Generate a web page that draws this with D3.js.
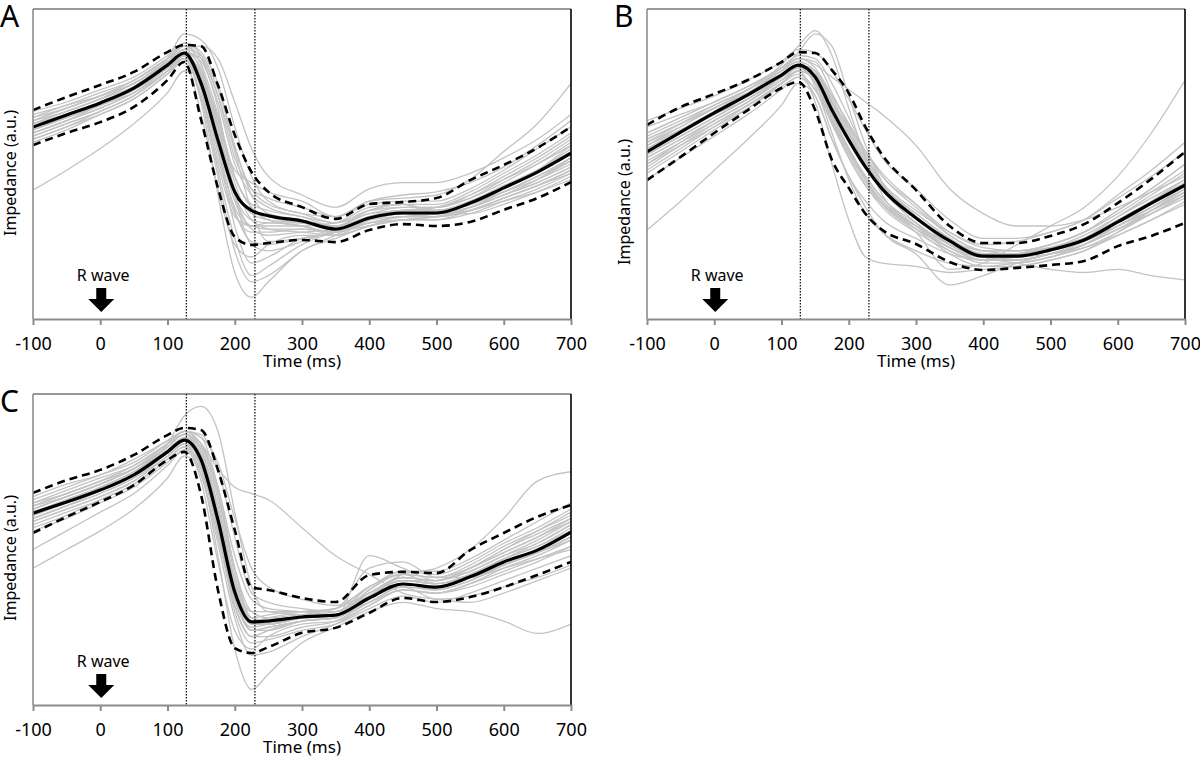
<!DOCTYPE html>
<html>
<head>
<meta charset="utf-8">
<script src="https://cdn.jsdelivr.net/npm/d3@7"></script>
<style>
  body { margin: 0; background: #fff; }
  text { font-family: "Noto Sans", sans-serif; fill: #000; }
</style>
</head>
<body>
<svg id="chart" width="1200" height="758"></svg>
<script>
// sample times (ms) shared by every curve
const times = [-100, -50, 0, 50, 100, 125, 150, 175, 200, 225, 250, 300, 350, 400, 450, 500, 550, 600, 650, 700];
const xTicks = [-100, 0, 100, 200, 300, 400, 500, 600, 700];
const markers = [128, 230];

// panel A
const meanA  = [61.9,65.8,69.7,74.5,81.9,85.8,76,57.7,41,35,33.3,31.6,29,32.6,34.2,34.2,37.4,42.3,47.4,53.5];
const upperA = [67.4,71.6,75.5,79.7,86.1,88.4,88,75.5,59.4,47.4,41,36.1,32.3,37.1,37.7,39,44.8,49.7,55.2,62];
const lowerA = [56.1,60,63.5,68.4,77.1,82.9,64.2,42.3,26.5,23.9,24.5,25.5,24.8,28.7,30.6,30,31.3,35.2,39,44.2];
const greyA = [
  [64,67,71,76,83,87,80,62,42,34,32,31,30,33,35,35,38,43,48,54],
  [60,64,68,73,80,84,72,50,33,30,31,30,28,31,33,34,37,41,46,52],
  [66,69,73,77,84,89,86,76,55,42,37,34,31,35,36,36,40,46,52,59],
  [58,62,66,71,79,83,66,42,24,20,24,27,27,30,32,32,34,38,42,47],
  [63,66,70,75,82,86,83,70,50,40,36,33,30,34,35,36,39,44,50,57],
  [41.6,48,55,63,73,80,78,65,46,36,33,31,29,32,34,34,36,40,44,49],
  [62,66,70,75,84,92,90,81,62,46,38,34,33,38,39,40,45,54,63,76],
  [61,65,69,74,81,84,70,40,15,7,12,22,26,30,33,33,35,39,43,48],
  [65,68,72,76,83,86,84,72,54,35,25,26,28,31,33,33,36,41,46,51],
  [59,63,67,72,80,84,75,56,35,25,24,26,28,31,32,33,35,38,41,45],
  [64,68,72,77,84,87,88,84,70,55,46,40,36,42,44,44,47,52,58,66],
  [62,66,70,74,81,85,77,55,30,18,20,26,28,33,35,35,37,41,45,50],
  [60,64,69,74,82,86,74,48,26,14,17,24,28,30,32,33,36,40,45,51],
  [63,67,71,75,82,85,79,64,46,36,32,30,27,32,34,33,36,40,45,52],
  [61,65,70,75,83,88,84,68,40,24,22,25,29,35,37,34,34,37,41,46],
  [67,70,74,78,85,89,85,72,52,42,39,36,33,38,40,41,44,49,56,64],
  [57,61,66,71,79,84,71,46,22,12,14,22,27,32,34,34,37,42,48,56],
  [62,65,69,73,80,84,78,62,48,44,41,38,33,37,38,38,42,48,55,62],
  [60,64,68,73,81,85,78,58,38,30,29,29,28,32,34,34,36,40,44,49],
  [65,69,72,77,84,88,82,66,46,37,35,33,31,34,36,36,39,45,51,58],
  [62,65,69,74,81,85,74,52,34,28,28,29,28,33,35,35,38,43,48,55],
  [59,63,67,72,80,84,80,64,44,32,29,28,27,30,32,32,35,39,43,48],
  [63,67,71,76,83,87,85,74,56,40,34,32,30,35,37,37,41,47,53,60],
  [61,65,69,74,81,85,76,54,36,30,30,30,31,36,37,35,37,41,46,52],
  [64,68,72,76,83,86,81,62,40,29,27,28,29,33,35,36,40,45,50,56],
  [58,62,67,72,80,85,79,60,40,32,31,31,30,32,33,33,35,39,43,47]
];

// panel B
const meanB  = [53.9,60.3,66.5,72.3,78.7,81.9,78.1,67.4,57.7,49,41.9,32.6,25.2,20.3,20.3,22.3,25.5,31.3,37.4,43.2];
const upperB = [62.6,68.4,72.6,77.1,82.9,86.1,85.8,80.3,72.9,61.9,52.9,41.6,30,24.5,24.5,26.8,30.6,37.4,45.2,53.9];
const lowerB = [44.8,52.3,60,67.4,74.5,76.5,67.4,51.3,42.3,33.9,28.7,24.2,18.4,15.8,16.5,17.4,18.7,23.5,26.8,31];
const greyB = [
  [55,61,67,73,79,82,79,68,58,49,42,33,25,20,20,22,25,31,37,43],
  [50,57,64,70,77,81,76,63,52,43,36,28,22,18,18,20,23,28,34,40],
  [60,65,70,75,81,85,84,76,65,54,46,36,27,22,22,24,28,34,41,48],
  [28.7,38,48,58,69,76,72,58,46,38,32,26,21,19,19,21,24,29,35,41],
  [58,63,68,74,82,88,93,85,68,52,40,30,22,19,20,22,26,33,40,47],
  [62,66,70,75,81,84,82,78,74,70,66,56,42,34,30,30,32,36,41,46],
  [52,58,64,70,77,80,70,50,32,20,18,17,15,16,17,19,22,28,35,42],
  [56,61,66,71,78,81,78,66,55,45,37,28,16,18,24,30,36,46,60,77],
  [54,60,66,72,79,82,80,70,60,50,43,34,26,20,18,16,15,16,14,12.6],
  [57,63,69,74,80,83,75,60,45,34,28,22,18,17,18,20,24,30,36,43],
  [48,55,62,69,76,80,78,70,62,54,47,37,27,22,21,23,27,33,39,45],
  [59,64,69,74,81,86,92,88,72,56,44,33,24,20,21,24,28,35,42,50],
  [53,59,65,71,78,81,77,64,54,45,38,29,21,17,17,19,22,27,32,38],
  [50,56,62,68,75,78,72,58,46,36,28,21,11,14,18,21,24,29,34,39],
  [64,68,72,77,83,87,86,80,71,61,52,42,32,26,26,28,32,40,48,57],
  [45,52,59,66,74,78,74,64,55,46,39,31,24,21,21,23,26,30,35,40],
  [56,62,68,73,80,84,83,73,62,52,44,35,28,24,25,28,32,39,46,54],
  [51,57,63,69,76,79,74,63,53,44,37,29,23,19,19,21,24,30,35,41],
  [53,59,65,71,78,81,79,69,59,50,43,34,26,21,21,23,26,32,38,44],
  [57,62,68,73,80,83,80,70,60,51,43,33,24,20,20,22,25,30,36,42],
  [49,56,63,69,76,80,77,65,54,45,38,30,24,20,19,21,24,29,34,40],
  [60,65,70,75,81,84,81,72,63,54,46,37,28,23,22,24,28,35,42,50],
  [55,60,66,72,79,82,78,66,55,46,39,30,23,19,19,21,25,31,38,45],
  [52,58,64,70,78,82,80,71,61,51,42,31,23,20,21,23,26,31,36,42],
  [58,63,68,73,80,83,77,64,52,43,37,30,25,22,22,23,26,31,37,44],
  [47,54,61,68,76,80,79,72,63,53,44,33,25,21,20,21,23,27,32,37]
];

// panel C
const meanC  = [61.7,65.3,69.1,74,81.4,85.2,78.8,59.5,36.3,26.7,27,28.3,28.9,34.4,38.9,37.9,41.2,46,49.8,55.6];
const upperC = [68.2,72.3,75.6,80.4,86.8,89.1,88.4,75.6,56.3,37.9,37,34.4,33.1,41.8,42.8,42.4,49.8,55.3,60.5,64.3];
const lowerC = [55.3,60.5,65.3,70.7,78.8,81.4,67.5,37,18.3,16.7,18.6,23.2,24.8,29.6,34.4,33.1,34.7,37.9,41.8,46];
const greyC = [
  [62,66,70,75,82,86,80,60,36,26,27,28,29,34,39,38,41,46,50,56],
  [58,62,66,71,79,83,72,46,24,18,22,26,27,32,37,36,39,44,48,53],
  [66,70,74,78,85,88,87,76,54,36,33,31,30,38,42,41,45,51,56,61],
  [44,50,56,63,73,80,76,56,32,22,24,27,28,35,40,39,42,47,51,56],
  [63,67,71,76,84,93,96,88,62,38,30,29,30,36,40,40,44,50,56,62],
  [64,68,72,77,84,88,84,76,70,68,66,57,48,42,36,34,33,36,40,44],
  [61,65,69,74,81,85,76,48,18,5,10,20,25,30,33,31,30,27,23,26],
  [60,64,68,73,80,84,78,58,34,24,25,27,28,48,44,40,43,48,52,58],
  [65,69,73,77,84,88,86,70,44,28,27,29,31,36,42,44,50,60,72,75],
  [59,63,67,72,80,84,74,52,28,16,17,22,26,32,37,36,38,42,46,51],
  [63,67,71,76,83,87,83,66,40,27,26,28,29,35,41,40,43,48,53,59],
  [50,56,62,68,77,82,78,62,40,30,30,30,31,44,46,41,41,44,47,50],
  [62,66,70,75,82,85,78,56,30,20,21,24,26,31,35,33,36,40,44,48],
  [67,71,74,79,85,88,86,78,60,44,38,34,32,38,43,43,47,53,59,65],
  [56,60,65,70,78,82,74,54,32,22,22,25,27,33,38,37,40,45,49,54],
  [64,68,72,76,83,87,82,64,38,26,26,28,29,36,40,39,42,47,52,58],
  [60,64,68,73,81,85,80,62,38,28,29,30,30,35,38,34,35,38,41,45],
  [61,65,70,75,83,87,84,70,48,34,31,30,29,36,41,40,44,50,55,60],
  [61,65,69,74,82,86,81,62,38,26,26,28,29,35,40,39,42,47,51,57],
  [64,67,71,76,83,87,82,62,36,24,24,27,28,35,41,40,44,49,54,60],
  [59,63,67,72,80,84,77,56,32,22,24,27,28,33,38,37,40,45,49,54],
  [62,66,70,75,82,86,83,68,44,30,28,29,29,37,42,41,44,49,54,59],
  [60,64,69,74,81,85,78,58,34,24,25,27,28,34,39,38,41,45,49,54],
  [63,67,71,76,84,88,84,68,42,28,27,28,29,37,43,42,46,52,57,63],
  [57,61,66,71,79,83,76,56,34,25,26,28,29,33,37,36,39,43,47,51],
  [65,68,72,77,84,87,80,60,36,27,28,30,31,38,42,39,41,45,49,53]
];

const panels = [
  { name: "A", left: 33,  right: 571,  top: 9,   bottom: 319, labelY: 173, mean: meanA, upper: upperA, lower: lowerA, grey: greyA },
  { name: "B", left: 647, right: 1185, top: 9,   bottom: 319, labelY: 202, mean: meanB, upper: upperB, lower: lowerB, grey: greyB },
  { name: "C", left: 33,  right: 571,  top: 394, bottom: 705, labelY: 558, mean: meanC, upper: upperC, lower: lowerC, grey: greyC }
];

const svg = d3.select("#chart");

panels.forEach(function(p, k) {
  let x = d3.scaleLinear().domain([-100, 700]).range([p.left, p.right]);
  let y = d3.scaleLinear().domain([0, 100]).range([p.bottom, p.top]);
  let g = svg.append("g");

  let line = d3.line()
    .x(function(d, i) { return x(times[i]); })
    .y(function(d) { return y(d); })
    .curve(d3.curveMonotoneX);

  g.append("clipPath").attr("id", "clip" + k)
    .append("rect")
    .attr("x", p.left).attr("y", p.top)
    .attr("width", p.right - p.left).attr("height", p.bottom - p.top);

  let plot = g.append("g").attr("clip-path", "url(#clip" + k + ")");

  plot.selectAll(".grey")
    .data(p.grey)
    .enter().append("path")
    .attr("d", line)
    .attr("fill", "none")
    .attr("stroke", "#c3c3c3")
    .attr("stroke-width", 1.3);

  // dotted markers
  g.selectAll(".marker")
    .data(markers)
    .enter().append("line")
    .attr("x1", function(d) { return x(d); })
    .attr("x2", function(d) { return x(d); })
    .attr("y1", p.top).attr("y2", p.bottom)
    .attr("stroke", "#000")
    .attr("stroke-width", 1.2)
    .attr("stroke-dasharray", "1.5,1.5");

  [p.upper, p.lower].forEach(function(s) {
    plot.append("path")
      .attr("d", line(s))
      .attr("fill", "none")
      .attr("stroke", "#000")
      .attr("stroke-width", 2.6)
      .attr("stroke-dasharray", "8,5");
  });

  plot.append("path")
    .attr("d", line(p.mean))
    .attr("fill", "none")
    .attr("stroke", "#000")
    .attr("stroke-width", 3.2);

  // frame: top and right dark, left and bottom grey
  g.append("line").attr("x1", p.left).attr("x2", p.right).attr("y1", p.top).attr("y2", p.top)
    .attr("stroke", "#333").attr("stroke-width", 1.2);
  g.append("line").attr("x1", p.right).attr("x2", p.right).attr("y1", p.top).attr("y2", p.bottom)
    .attr("stroke", "#000").attr("stroke-width", 1.6);
  g.append("line").attr("x1", p.left).attr("x2", p.left).attr("y1", p.top).attr("y2", p.bottom)
    .attr("stroke", "#8c8c8c").attr("stroke-width", 1.6);

  let axis = g.append("g")
    .attr("transform", "translate(0," + p.bottom + ")")
    .call(d3.axisBottom(x).tickValues(xTicks).tickSize(6).tickSizeOuter(0).tickPadding(12)
      .tickFormat(function(d) { return String(d); }));
  axis.select(".domain").attr("stroke", "#8c8c8c").attr("stroke-width", 2);
  axis.selectAll(".tick line").attr("stroke", "#8c8c8c").attr("stroke-width", 2);
  axis.selectAll(".tick text").attr("font-size", 18).attr("fill", "#000")
    .style("font-family", "'Noto Sans', sans-serif");

  g.append("text")
    .attr("x", (p.left + p.right) / 2)
    .attr("y", p.bottom + 48)
    .attr("text-anchor", "middle")
    .attr("font-size", 17)
    .text("Time (ms)");

  g.append("text")
    .attr("transform", "translate(" + (p.left - 17) + "," + p.labelY + ") rotate(-90)")
    .attr("text-anchor", "middle")
    .attr("font-size", 16)
    .text("Impedance (a.u.)");

  g.append("text")
    .attr("x", p.left - 33)
    .attr("y", p.top + 18)
    .attr("font-size", 30)
    .text(p.name);

  // R wave arrow at t = 0
  let ax = x(0) + 1, ay = p.bottom - 31;
  g.append("text")
    .attr("x", ax + 2)
    .attr("y", ay - 7)
    .attr("text-anchor", "middle")
    .attr("font-size", 16)
    .text("R wave");
  g.append("path")
    .attr("d", "M" + (ax - 5) + "," + ay + "h10v11h8l-13,13l-13,-13h8z")
    .attr("fill", "#000");
});
</script>
</body>
</html>
